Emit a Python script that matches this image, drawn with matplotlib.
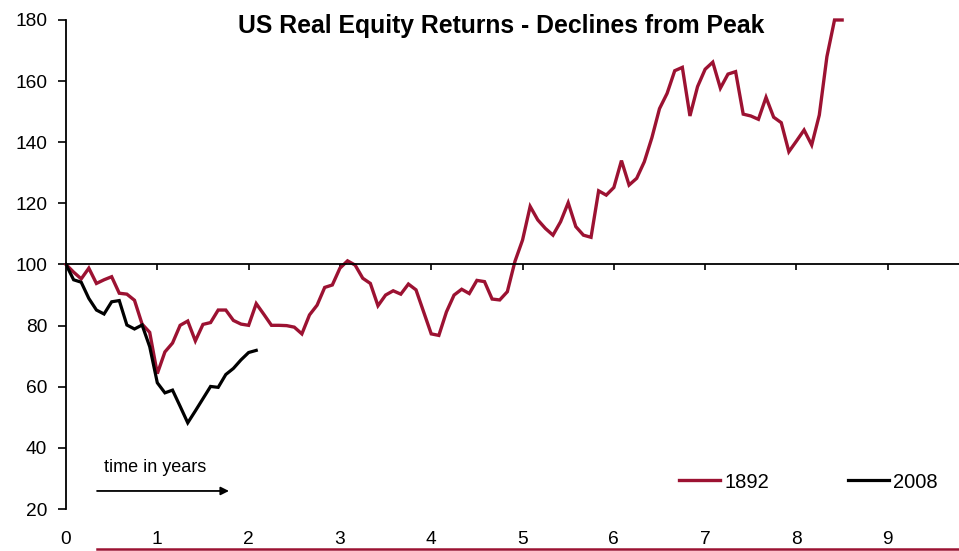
import numpy as np
import matplotlib
matplotlib.use('Agg')
import matplotlib.pyplot as plt
from matplotlib.lines import Line2D

plt.rcParams['font.family'] = ['Liberation Sans', 'DejaVu Sans']

# monthly index levels, peak = 100
red_1892 = [100, 97.5, 95.3, 98.8, 93.8, 95, 96, 90.6, 90.3, 88.3, 80.5, 77.8,
            64.3, 71.4, 74.3, 80.1, 81.5, 75, 80.4, 81, 85.1, 85.1, 81.7, 80.5,
            80.1, 87.2, 83.7, 80.1, 80.1, 80, 79.5, 77.3, 83.5, 86.7, 92.5, 93.3,
            98.8, 101.2, 99.8, 95.5, 93.8, 86.5, 90, 91.4, 90.3, 93.6, 91.7, 84.5,
            77.3, 76.8, 84.5, 90, 91.9, 90.5, 94.8, 94.4, 88.7, 88.4, 91.1, 101,
            108, 119, 114.6, 111.8, 109.6, 114, 120.2, 112.4, 109.6, 108.9, 124.1, 122.7,
            125.2, 134, 126, 128.2, 133.6, 141.5, 151, 156, 163.4, 164.5, 148.6, 158.2,
            163.9, 166.2, 157.7, 162.3, 163.1, 149.2, 148.6, 147.5, 154.7, 148.2, 146.4, 136.9,
            140.4, 144, 139.1, 148.9, 168, 180, 180]
black_2008 = [100, 95, 94.2, 88.9, 85.1, 83.8, 87.8, 88.2, 80.2, 78.9, 80.2, 73.1,
              61.3, 58.0, 58.9, 53.6, 48.2, 52.1, 56.1, 60.1, 59.8, 64, 66, 68.8,
              71.2, 71.9]
years = [0, 1, 2, 3, 4, 5, 6, 7, 8, 9]
y_ticks = [20, 40, 60, 80, 100, 120, 140, 160, 180]

red = '#9c1232'

fig = plt.figure(figsize=(9.59, 5.51), dpi=100)
ax = fig.add_axes([66 / 959, 42 / 551, 893 / 959, 489 / 551])

x_red = np.arange(len(red_1892)) / 12
x_black = np.arange(len(black_2008)) / 12
ax.plot(x_red, red_1892, color=red, lw=2.4, label='1892', clip_on=False,
        solid_joinstyle='miter')
ax.plot(x_black, black_2008, color='black', lw=2.3, label='2008',
        solid_joinstyle='miter')

ax.set_xlim(0, 9.78)
ax.set_ylim(20, 180)

# axes styling: x axis crosses at 100, labels stay at bottom
ax.spines['top'].set_visible(False)
ax.spines['right'].set_visible(False)
ax.spines['bottom'].set_position(('data', 100))
ax.spines['bottom'].set_linewidth(1.3)
ax.spines['left'].set_linewidth(1.3)
ax.set_yticks(y_ticks)
ax.set_xticks(years[1:])
ax.tick_params(axis='y', direction='out', length=5.5, width=1.2, labelsize=13.8, pad=8)
ax.tick_params(axis='x', direction='out', length=4.5, width=1.2, labelbottom=False)
for yr in years:
    ax.text(yr, -0.063, str(yr), transform=ax.get_xaxis_transform(),
            ha='center', va='center', fontsize=13.8)

fig.text(0.523, 1 - 33.5 / 551, 'US Real Equity Returns - Declines from Peak',
         ha='center', va='baseline', fontsize=17.8, fontweight='bold')

# time arrow
ax.annotate('', xy=(1.785, 25.9), xytext=(0.34, 25.9),
            arrowprops=dict(arrowstyle='-|>', color='black', lw=1.3,
                            mutation_scale=12, shrinkA=0, shrinkB=0))
ax.text(0.416, 33.7, 'time in years', ha='left', va='center', fontsize=13)

ax.legend(loc='center left', bbox_to_anchor=(0.6865, 0.0552), ncol=2,
          frameon=False, fontsize=14.5, handlelength=2.05, handletextpad=0.2,
          columnspacing=3.9, borderpad=0, borderaxespad=0)

# footer rule
fig.add_artist(Line2D([97 / 959, 1.0], [1 - 548.5 / 551] * 2,
                      transform=fig.transFigure, color=red, lw=1.8))

plt.savefig('out.png', dpi=100)
